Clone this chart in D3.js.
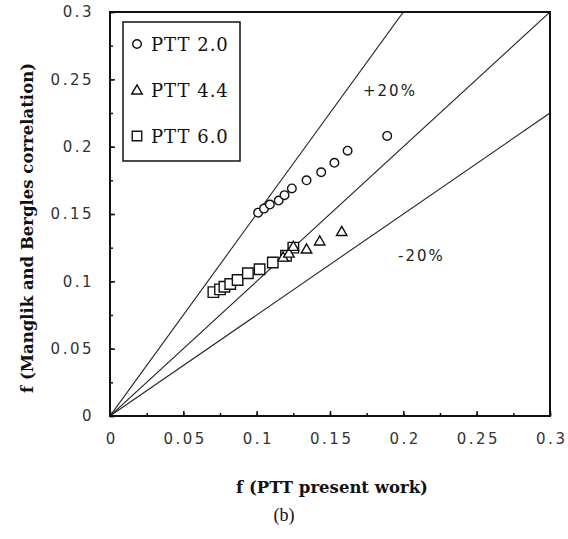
<!DOCTYPE html>
<html><head><meta charset="utf-8">
<script src="https://cdn.jsdelivr.net/npm/d3@7"></script>
<style>body{margin:0;background:#fff}</style>
</head><body>
<svg id="c" width="568" height="539"></svg>
<script>
const xTicks = [0, 0.05, 0.1, 0.15, 0.2, 0.25, 0.3];
const yTicks = [0, 0.05, 0.1, 0.15, 0.2, 0.25, 0.3];
const ptt20 = [[0.101,0.151],[0.105,0.154],[0.109,0.157],[0.115,0.160],[0.119,0.164],[0.124,0.169],[0.134,0.175],[0.144,0.181],[0.153,0.188],[0.162,0.197],[0.189,0.208]];
const ptt44 = [[0.118,0.118],[0.122,0.121],[0.125,0.126],[0.134,0.124],[0.143,0.130],[0.158,0.137]];
const ptt60 = [[0.0705,0.092],[0.075,0.094],[0.078,0.096],[0.082,0.098],[0.087,0.101],[0.094,0.106],[0.102,0.109],[0.111,0.114],[0.120,0.119],[0.125,0.125]];
const refSlopes = [1.5, 1.0, 0.75];
const legendLabels = ["PTT 2.0", "PTT 4.4", "PTT 6.0"];

const svg = d3.select("#c");
const L = 110, R = 550, T = 12, B = 416;
const x = d3.scaleLinear().domain([0, 0.3]).range([L, R]);
const y = d3.scaleLinear().domain([0, 0.3]).range([B, T]);
const fmt = d => d3.format("")(+d.toFixed(2));
const LS = 2.5;

// reference lines
svg.append("clipPath").attr("id", "clip").append("rect").attr("x", L).attr("y", T).attr("width", R - L).attr("height", B - T);
svg.append("g").attr("clip-path", "url(#clip)").selectAll("line").data(refSlopes).join("line")
  .attr("x1", x(0)).attr("y1", y(0)).attr("x2", x(0.3)).attr("y2", d => y(0.3 * d))
  .attr("stroke", "#222").attr("stroke-width", 1.1);

// axes
const minor = d3.range(0, 0.3001, 0.025);
const gx = svg.append("g").attr("transform", `translate(0,${B})`);
gx.call(d3.axisBottom(x).tickValues(minor).tickSize(-3).tickFormat(""));
gx.selectAll(".tick line").attr("stroke", "#111").attr("stroke-width", 1.5);
gx.select(".domain").remove();
const gx2 = svg.append("g").attr("transform", `translate(0,${B})`);
gx2.call(d3.axisBottom(x).tickValues(xTicks).tickSize(-5).tickPadding(17).tickFormat(fmt));
gx2.select(".domain").remove();
gx2.selectAll(".tick line").attr("stroke", "#111").attr("stroke-width", 1.5);
gx2.selectAll("text").attr("font-family", "DejaVu Sans").attr("font-size", 15).attr("fill", "#333")
  .attr("letter-spacing", LS).attr("dx", LS / 2);

const gy = svg.append("g").attr("transform", `translate(${L},0)`);
gy.call(d3.axisLeft(y).tickValues(minor).tickSize(-3).tickFormat(""));
gy.select(".domain").remove();
gy.selectAll(".tick line").attr("stroke", "#111").attr("stroke-width", 1.5);
const gy2 = svg.append("g").attr("transform", `translate(${L},0)`);
gy2.call(d3.axisLeft(y).tickValues(yTicks).tickSize(-5).tickPadding(16).tickFormat(fmt));
gy2.select(".domain").remove();
gy2.selectAll(".tick line").attr("stroke", "#111").attr("stroke-width", 1.5);
gy2.selectAll("text").attr("font-family", "DejaVu Sans").attr("font-size", 15).attr("fill", "#333")
  .attr("letter-spacing", LS);

// frame
svg.append("rect").attr("x", L).attr("y", T).attr("width", R - L).attr("height", B - T)
  .attr("fill", "none").attr("stroke", "#111").attr("stroke-width", 2);

// markers
const circ = d3.symbol().type(d3.symbolCircle).size(58);
const tri = d3.symbol().type(d3.symbolTriangle).size(48);
const sq = d3.symbol().type(d3.symbolSquare).size(110);
function drawSet(data, sym, dy) {
  svg.append("g").selectAll("path").data(data).join("path")
    .attr("d", sym).attr("transform", d => `translate(${x(d[0])},${y(d[1]) + (dy||0)})`)
    .attr("fill", "#fff").attr("stroke", "#111").attr("stroke-width", 1.4);
}
drawSet(ptt60, sq);
drawSet(ptt44, tri, 1);
drawSet(ptt20, circ);

// legend
svg.append("rect").attr("x", 123).attr("y", 22).attr("width", 117).attr("height", 139)
  .attr("fill", "#fff").attr("stroke", "#111").attr("stroke-width", 1.5);
const legSyms = [circ, tri, d3.symbol().type(d3.symbolSquare).size(90)];
const ly = [44, 90, 136];
legendLabels.forEach((t, i) => {
  svg.append("path").attr("d", legSyms[i]())
    .attr("transform", `translate(137,${ly[i] + (i === 1 ? 1 : 0)})`)
    .attr("fill", "#fff").attr("stroke", "#111").attr("stroke-width", 1.4);
  svg.append("text").attr("x", 151).attr("y", ly[i] + 7).text(t)
    .attr("font-family", "DejaVu Serif").attr("font-size", 18).attr("letter-spacing", 1).attr("fill", "#111");
});

// annotations
svg.append("text").attr("x", 363).attr("y", 96).text("+20%")
  .attr("font-family", "DejaVu Sans").attr("font-size", 15).attr("letter-spacing", 2).attr("fill", "#222");
svg.append("text").attr("x", 398).attr("y", 261).text("-20%")
  .attr("font-family", "DejaVu Sans").attr("font-size", 15).attr("letter-spacing", 2).attr("fill", "#222");

// titles
svg.append("text").attr("x", 332).attr("y", 493).attr("text-anchor", "middle").text("f (PTT present work)")
  .attr("font-family", "DejaVu Serif").attr("font-weight", "bold").attr("font-size", 16.5).attr("fill", "#111");
svg.append("text").attr("transform", "translate(33,228) rotate(-90)").attr("text-anchor", "middle")
  .text("f (Manglik and Bergles correlation)")
  .attr("font-family", "DejaVu Serif").attr("font-weight", "bold").attr("font-size", 16.5).attr("fill", "#111");
svg.append("text").attr("x", 284).attr("y", 521).attr("text-anchor", "middle").text("(b)")
  .attr("font-family", "Liberation Serif").attr("font-size", 18).attr("fill", "#111");
</script>
</body></html>
